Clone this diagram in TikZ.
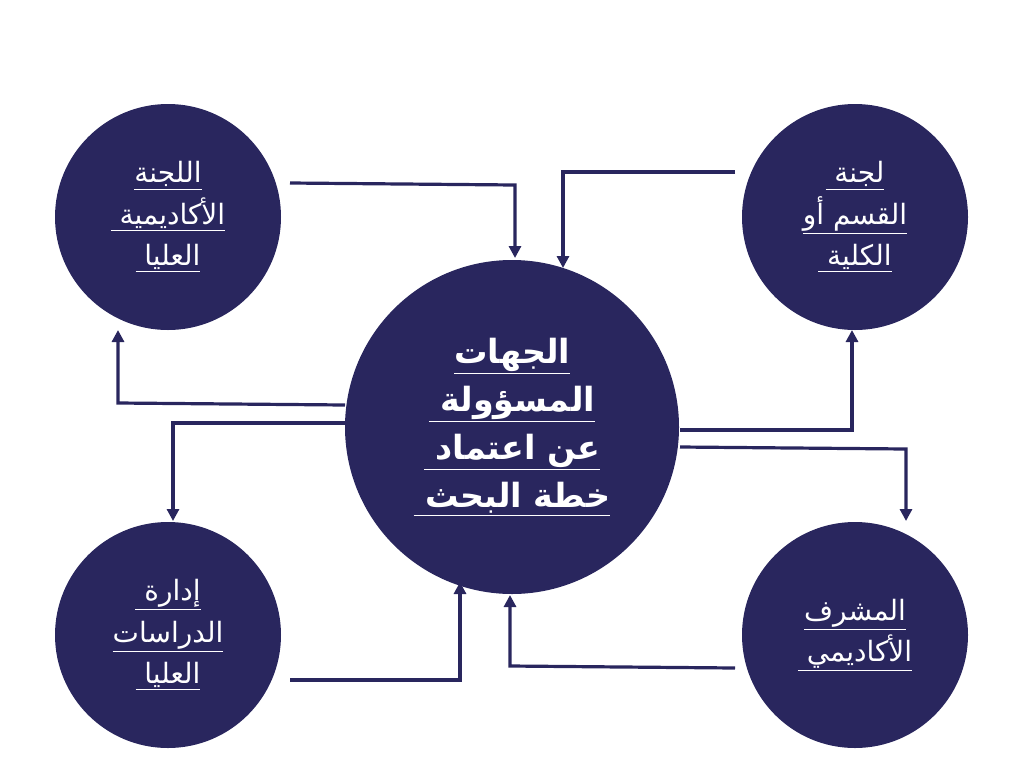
\documentclass[tikz,border=0pt]{standalone}
\usepackage{fontspec}
\newfontfamily\arfont[Script=Arabic]{DejaVu Sans}
\TeXXeTstate=1
\definecolor{navy}{HTML}{29265E}
\newcommand{\ar}[1]{\underline{\beginR #1\endR}}
\begin{document}
\begin{tikzpicture}[x=0.75pt,y=-0.75pt,
  circ/.style={circle,fill=navy,text=white,align=center,font=\arfont\fontsize{21}{31}\selectfont},
  conn/.style={draw=navy,line width=2.4pt,-{Stealth[length=9pt,width=9pt,inset=0pt]},line join=miter}]
\usetikzlibrary{arrows.meta}
\useasboundingbox (0,0) rectangle (1024,768);
\node[circ,minimum size=226*0.75pt] (tl) at (168,217) {\ar{اللجنة}\\\ar{الأكاديمية }\\\ar{العليا }};
\node[circ,minimum size=226*0.75pt] (tr) at (855,217) {\ar{لجنة }\\\ar{القسم أو}\\\ar{الكلية }};
\node[circ,minimum size=226*0.75pt] (bl) at (168,635) {\ar{إدارة }\\\ar{الدراسات}\\\ar{العليا }};
\node[circ,minimum size=226*0.75pt] (br) at (855,635) {\ar{المشرف}\\\ar{الأكاديمي }};
\node[circ,minimum size=334*0.75pt,font=\arfont\bfseries\fontsize{25}{36}\selectfont] (c) at (512,427) {\ar{الجهات}\\\ar{المسؤولة }\\\ar{عن اعتماد }\\\ar{خطة البحث }};
\coordinate (a1) at (290,183); \coordinate (a2) at (515,185); \coordinate (a3) at (515,258);
\coordinate (b1) at (735,172); \coordinate (b2) at (563,172); \coordinate (b3) at (563,268);
\coordinate (c1) at (345,405); \coordinate (c2) at (118,403); \coordinate (c3) at (118,330);
\coordinate (d1) at (345,423); \coordinate (d2) at (173,423); \coordinate (d3) at (173,521);
\coordinate (e1) at (680,430); \coordinate (e2) at (852,430); \coordinate (e3) at (852,330);
\coordinate (f1) at (680,447); \coordinate (f2) at (906,449); \coordinate (f3) at (906,521);
\coordinate (g1) at (290,680); \coordinate (g2) at (460,680); \coordinate (g3) at (460,582);
\coordinate (h1) at (735,668); \coordinate (h2) at (510,666); \coordinate (h3) at (510,595);
\draw[conn] (a1) -- (a2) -- (a3);
\draw[conn] (b1) -- (b2) -- (b3);
\draw[conn] (c1) -- (c2) -- (c3);
\draw[conn] (d1) -- (d2) -- (d3);
\draw[conn] (e1) -- (e2) -- (e3);
\draw[conn] (f1) -- (f2) -- (f3);
\draw[conn] (g1) -- (g2) -- (g3);
\draw[conn] (h1) -- (h2) -- (h3);
\end{tikzpicture}
\end{document}
